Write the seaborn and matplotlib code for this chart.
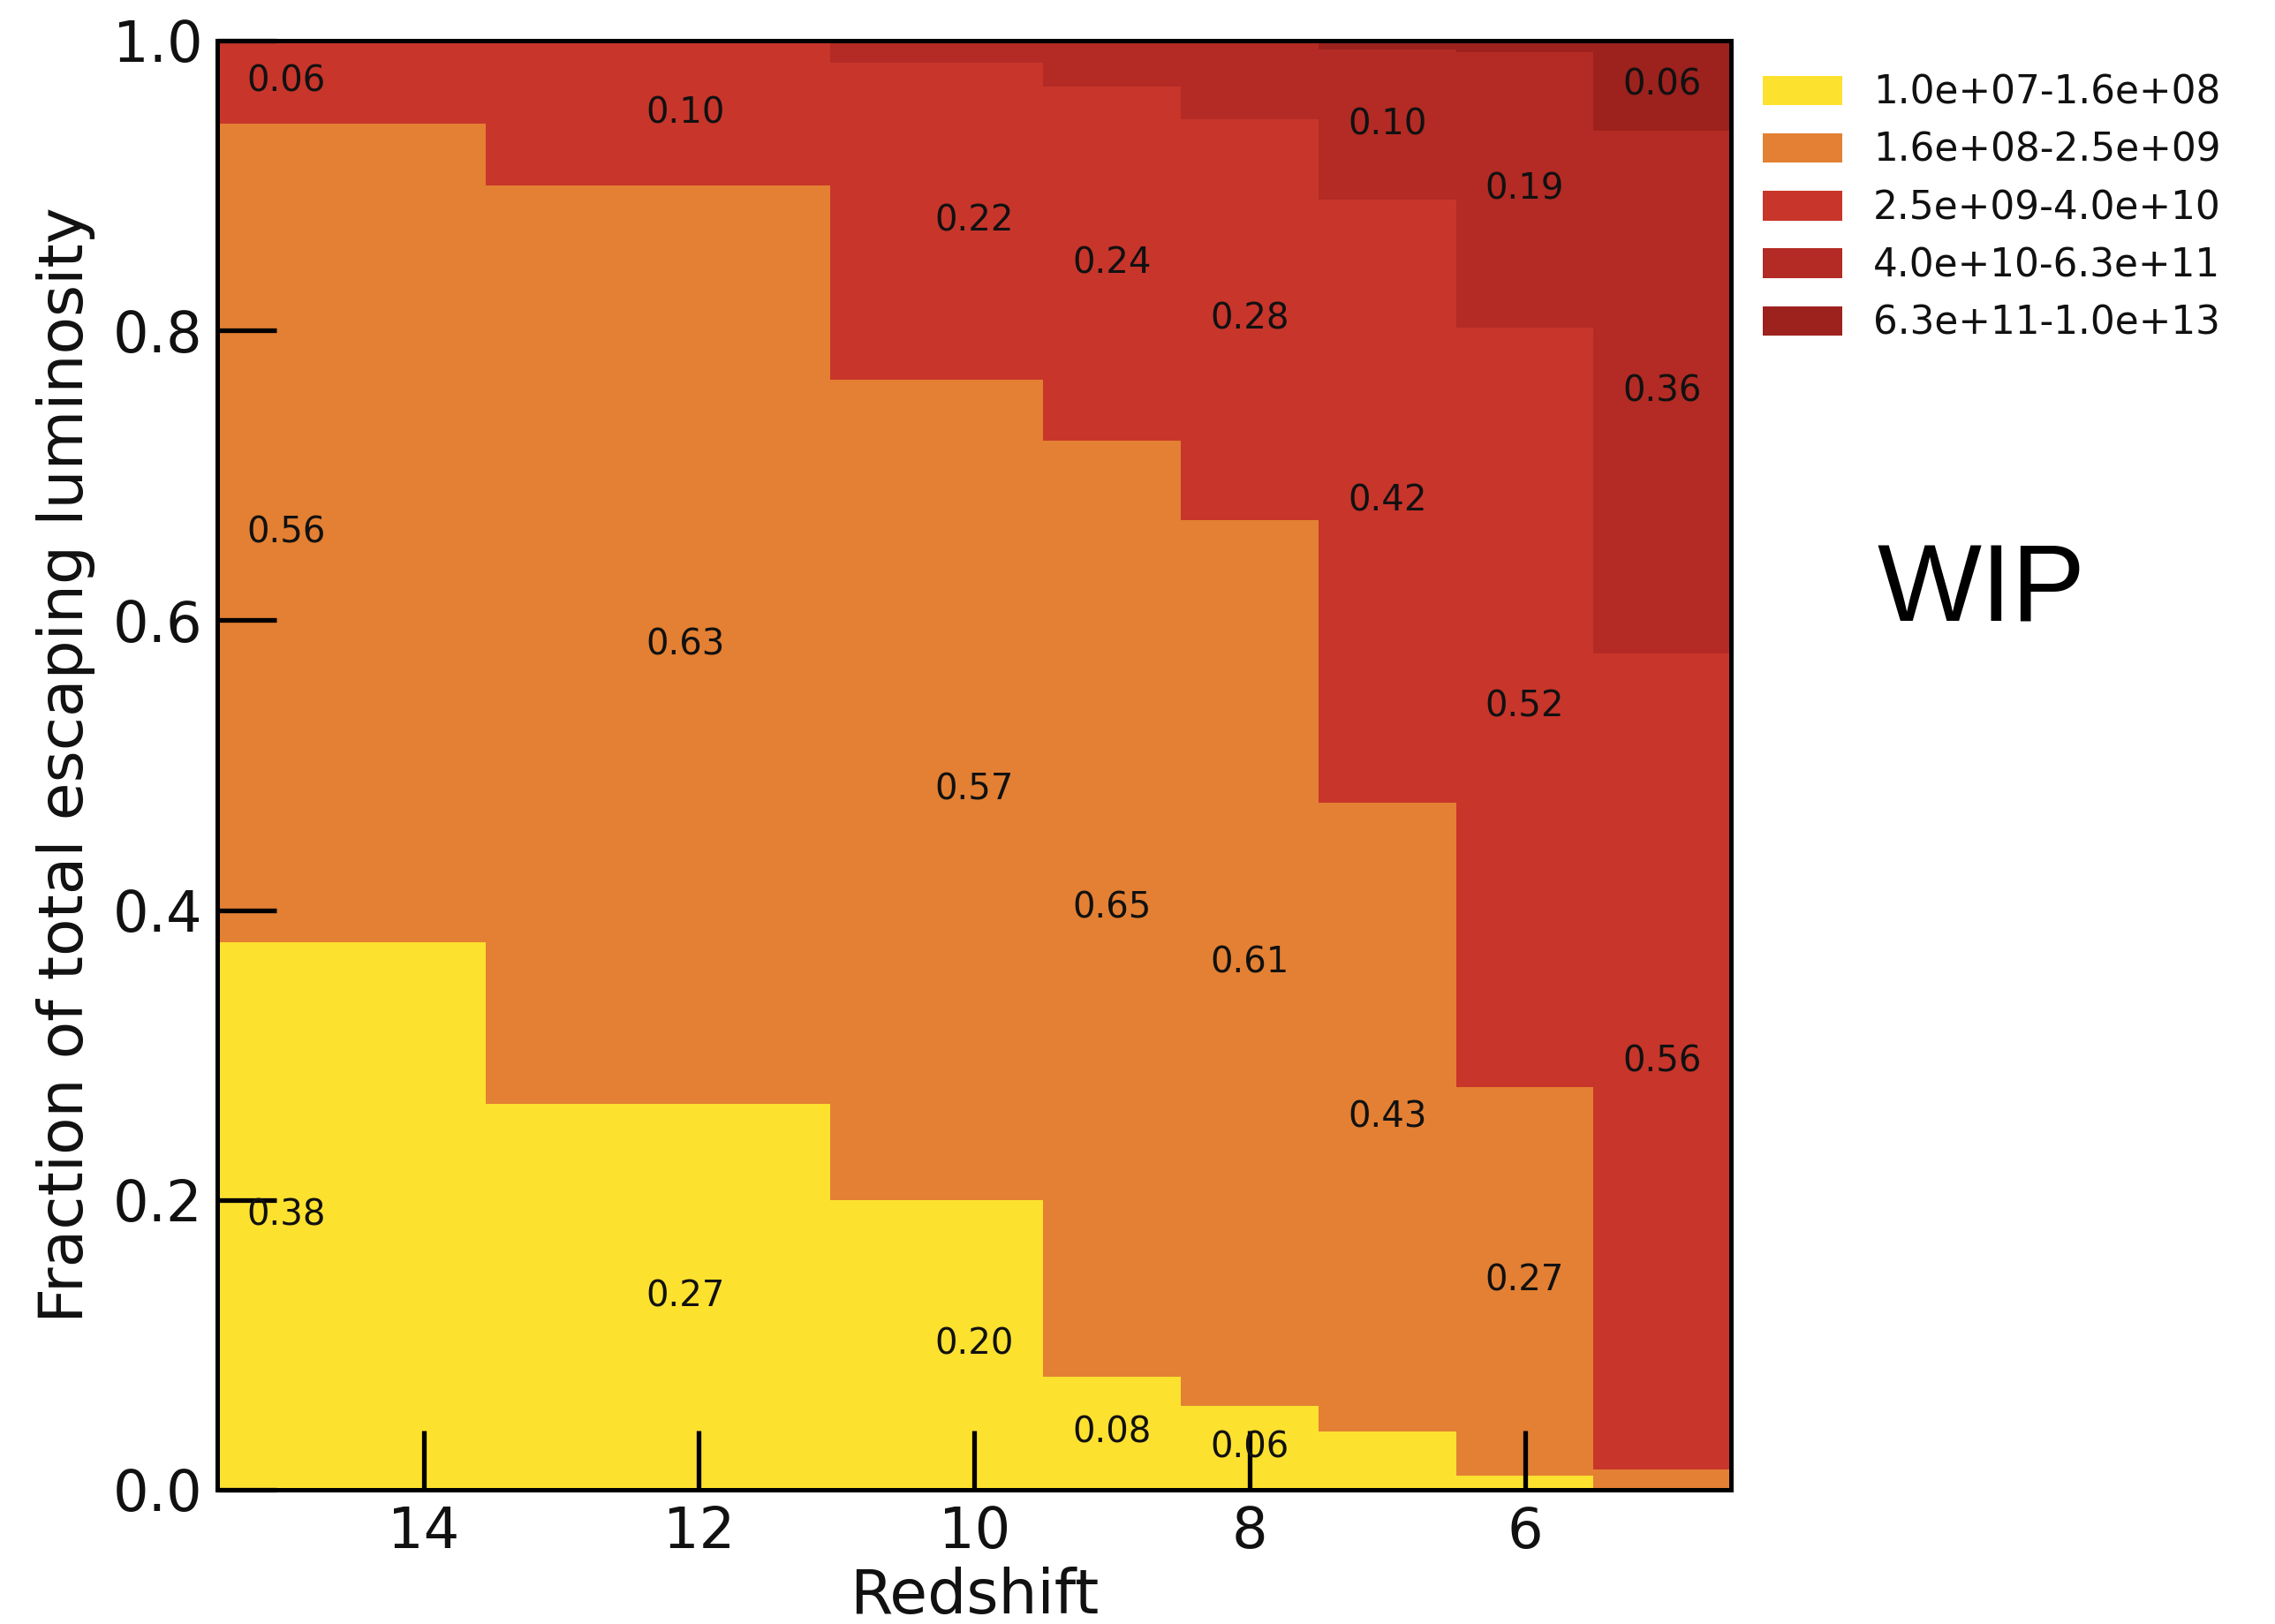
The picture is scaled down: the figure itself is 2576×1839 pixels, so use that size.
import numpy as np
import pandas as pd
import matplotlib
matplotlib.use("Agg")
import matplotlib.pyplot as plt
from matplotlib.patches import Patch
import seaborn as sns

# Redshift snapshots and the fraction of escaping luminosity per halo-mass bin
redshift = [15, 12.1, 10, 9, 8, 7, 6, 5]
mass_bins = ["1.0e+07-1.6e+08", "1.6e+08-2.5e+09", "2.5e+09-4.0e+10",
             "4.0e+10-6.3e+11", "6.3e+11-1.0e+13"]
frac_bin1 = [0.378, 0.266, 0.200, 0.078, 0.058, 0.040, 0.010, 0.000]
frac_bin2 = [0.565, 0.634, 0.566, 0.646, 0.611, 0.434, 0.268, 0.014]
frac_bin3 = [0.057, 0.100, 0.219, 0.244, 0.277, 0.416, 0.524, 0.563]
frac_bin4 = [0.000, 0.000, 0.015, 0.032, 0.054, 0.104, 0.190, 0.361]
frac_bin5 = [0.000, 0.000, 0.000, 0.000, 0.000, 0.006, 0.008, 0.062]
colors = ["#FDE12F", "#E38033", "#C8352B", "#B32B24", "#9D211D"]

fractions = [frac_bin1, frac_bin2, frac_bin3, frac_bin4, frac_bin5]
df = pd.DataFrame({
    "z": np.tile(redshift, len(mass_bins)).astype(float),
    "frac": np.concatenate(fractions),
    "mass": np.repeat(mass_bins, len(redshift)),
})

# bin edges half-way between snapshots, half a unit beyond the end ones
zc = np.array(redshift, dtype=float)
mids = (zc[:-1] + zc[1:]) / 2
edges = sorted([float(e) for e in np.concatenate([[zc[0] + 0.5], mids, [zc[-1] - 0.5]])])

sns.set_theme(style="white")
plt.rcParams["font.family"] = ["DejaVu Sans"]
plt.rcParams.update({"text.color": "#111111", "axes.labelcolor": "#111111",
                     "xtick.color": "black", "ytick.color": "black"})

fig = plt.figure(figsize=(25.76, 18.39), dpi=100)
ax = fig.add_axes([0.0955, 0.0827, 0.6655, 0.8923])

# seaborn stacks the last hue level at the bottom, so pass the order reversed
sns.histplot(data=df, x="z", weights="frac", hue="mass",
             hue_order=mass_bins[::-1], palette=colors[::-1],
             bins=edges, multiple="stack", element="bars",
             linewidth=0, alpha=1, legend=False, ax=ax)

ax.set_axisbelow(False)
ax.set_xlim(edges[-1], edges[0])
ax.set_ylim(0, 1)
ax.set_xticks([14, 12, 10, 8, 6])
ax.set_yticks([0.0, 0.2, 0.4, 0.6, 0.8, 1.0])
ax.set_xticklabels(["14", "12", "10", "8", "6"])
ax.set_yticklabels(["0.0", "0.2", "0.4", "0.6", "0.8", "1.0"])
ax.tick_params(axis="both", which="major", direction="in", length=48,
               width=3.8, labelsize=46, pad=12, color="black",
               labelcolor="#111111",
               bottom=True, left=True, top=False, right=False)
for s in ax.spines.values():
    s.set_color("black")
    s.set_linewidth(3.6)
    s.set_zorder(5)
ax.set_xlabel("Redshift", fontsize=50, labelpad=6)
ax.set_ylabel("Fraction of total escaping luminosity", fontsize=50, labelpad=14)

# value labels in the middle of each segment
cum = np.zeros(len(redshift))
for vals in fractions:
    vals = np.asarray(vals)
    for z, base, v in zip(redshift, cum, vals):
        if round(v, 2) > 0.05:
            ax.text(z, base + v / 2, f"{v:.2f}", ha="center", va="center",
                    fontsize=29, color="#111111", zorder=6)
    cum = cum + vals

handles = [Patch(facecolor=c, edgecolor="none") for c in colors]
fig.legend(handles, mass_bins, loc="upper left", bbox_to_anchor=(0.775, 0.9546),
           frameon=False, fontsize=31.5, handlelength=2.05, handleheight=0.8,
           handletextpad=0.8, labelspacing=0.51, borderpad=0, borderaxespad=0)

fig.text(0.871, 0.6346, "WIP", fontsize=90, family="Liberation Sans",
         ha="center", va="center", color="black")

fig.savefig("out.png", dpi=100)
